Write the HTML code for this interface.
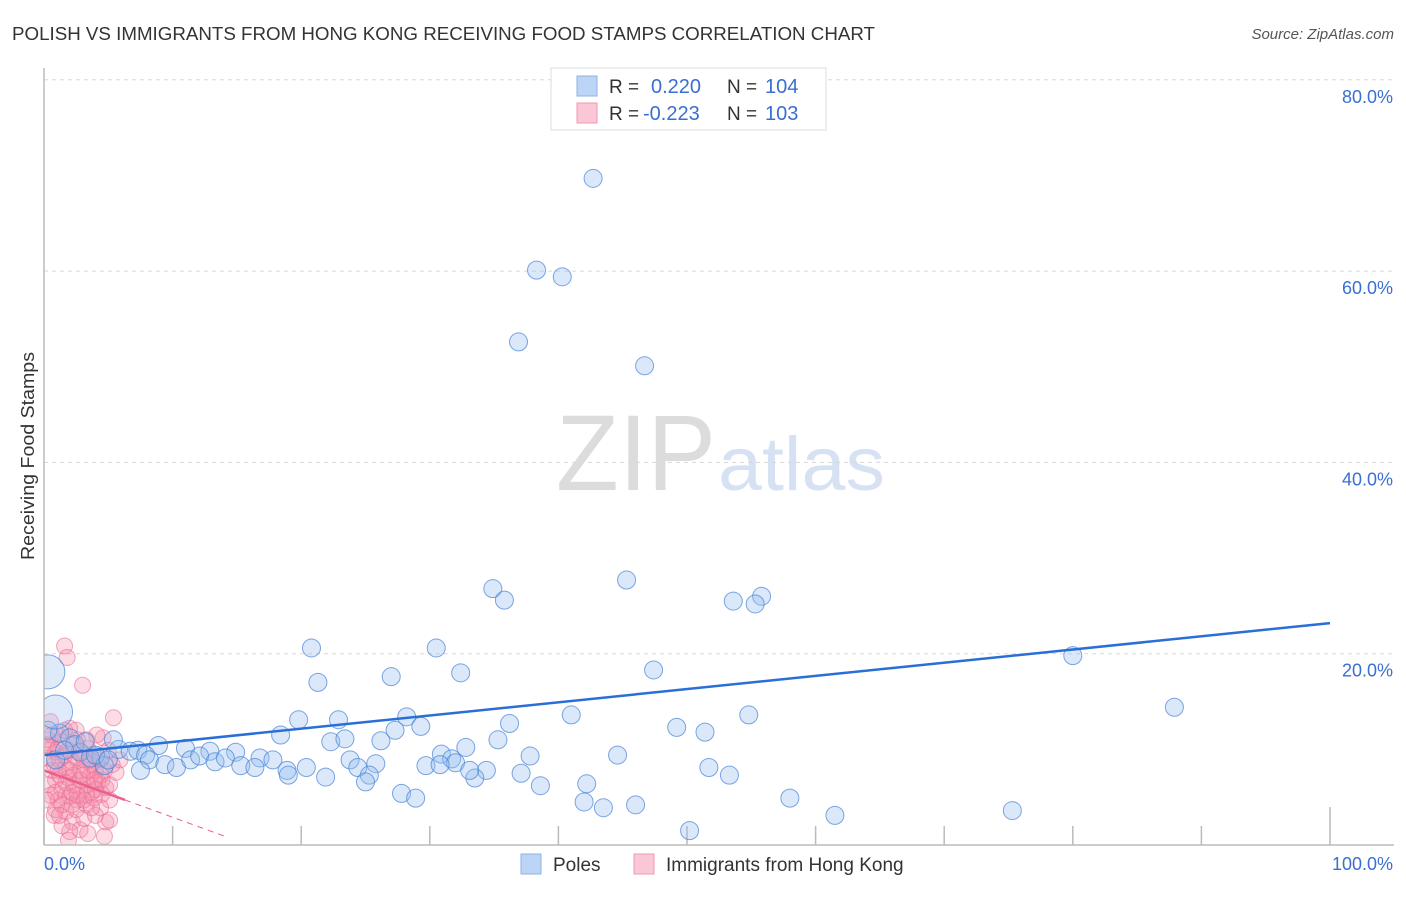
<!DOCTYPE html>
<html><head><meta charset="utf-8"><style>
body{margin:0;background:#fff;font-family:"Liberation Sans",sans-serif;}
svg text{font-family:"Liberation Sans",sans-serif;}
</style></head><body>
<svg id="chart" width="1406" height="892" xmlns="http://www.w3.org/2000/svg">
<defs><clipPath id="plotclip"><rect x="44" y="60" width="1360" height="785"/></clipPath></defs>
<text x="12" y="40" font-size="18" fill="#333" textLength="863" lengthAdjust="spacingAndGlyphs">POLISH VS IMMIGRANTS FROM HONG KONG RECEIVING FOOD STAMPS CORRELATION CHART</text>
<text x="1394" y="39" font-size="15" fill="#555" font-style="italic" text-anchor="end">Source: ZipAtlas.com</text>
<text x="716" y="490" font-size="108" fill="#dcdcdc" font-family="Liberation Serif,serif" text-anchor="end" textLength="160" lengthAdjust="spacingAndGlyphs">ZIP</text>
<text x="718" y="490" font-size="76" fill="#d6e2f3" textLength="167" lengthAdjust="spacingAndGlyphs">atlas</text>
<text transform="translate(34,456) rotate(-90)" font-size="18" fill="#333" text-anchor="middle" textLength="208" lengthAdjust="spacingAndGlyphs">Receiving Food Stamps</text>
<g id="grid"></g><g id="pink" clip-path="url(#plotclip)"></g><g id="blue" clip-path="url(#plotclip)"></g><g id="lines"></g>
<line x1="44" y1="68" x2="44" y2="845" stroke="#bbb" stroke-width="1.5"/>
<line x1="44" y1="845" x2="1394" y2="845" stroke="#bbb" stroke-width="1.5"/>
<text x="44" y="870" font-size="18" fill="#3a6fd1">0.0%</text>
<text x="1393" y="870" font-size="18" fill="#3a6fd1" text-anchor="end">100.0%</text>
<g>
<rect x="551" y="68" width="275" height="62" fill="#fff" stroke="#ddd"/>
<rect x="577" y="76" width="20" height="20" fill="#bcd4f6" stroke="#8fb1e6"/>
<rect x="577" y="103" width="20" height="20" fill="#f9c7d5" stroke="#f09ab3"/>
<text x="609" y="93" font-size="19" fill="#333">R = </text>
<text x="651" y="93" font-size="20" fill="#3a6fd1">0.220</text>
<text x="727" y="93" font-size="19" fill="#333">N = </text>
<text x="765" y="93" font-size="20" fill="#3a6fd1">104</text>
<text x="609" y="120" font-size="19" fill="#333">R = </text>
<text x="643" y="120" font-size="20" fill="#3a6fd1">-0.223</text>
<text x="727" y="120" font-size="19" fill="#333">N = </text>
<text x="765" y="120" font-size="20" fill="#3a6fd1">103</text>
</g>
<g>
<rect x="521" y="854" width="20" height="20" fill="#bcd4f6" stroke="#8fb1e6"/>
<text x="553" y="871" font-size="19" fill="#333">Poles</text>
<rect x="634" y="854" width="20" height="20" fill="#f9c7d5" stroke="#f09ab3"/>
<text x="666" y="871" font-size="19" fill="#333">Immigrants from Hong Kong</text>
</g>
</svg>
<script>
const yTicks=[20,40,60,80];
const xTicks=[0,10,20,30,40,50,60,70,80,90,100];
const blueX=[42.7,38.3,40.3,36.9,46.7,45.3,34.9,35.8,53.6,55.8,55.3,20.8,30.5,47.4,80.0,21.3,32.4,27.0,87.9,19.8,22.9,28.2,41.0,29.3,36.2,49.2,51.4,54.8,18.4,22.3,23.4,26.2,27.3,35.3,30.9,32.8,37.8,44.6,8.9,11.0,12.9,14.9,16.8,17.8,5.8,6.7,7.3,7.9,5.4,4.4,8.2,9.4,10.3,11.4,12.1,13.3,14.1,15.3,16.4,18.9,20.4,23.8,24.4,25.8,29.7,31.7,32.0,34.4,37.1,25.3,25.0,21.9,19.0,27.8,28.9,33.5,38.6,42.2,42.0,43.5,46.0,50.2,51.7,53.3,58.0,61.5,75.3,1.2,2.0,2.8,3.6,4.7,2.4,0.9,1.6,3.2,4.0,0.3,5.0,7.5,33.1,30.8];
const blueY=[69.7,60.1,59.4,52.6,50.1,27.7,26.8,25.6,25.5,26.0,25.2,20.6,20.6,18.3,19.8,17.0,18.0,17.6,14.4,13.1,13.1,13.4,13.6,12.4,12.7,12.3,11.8,13.6,11.5,10.8,11.1,10.9,12.0,11.0,9.5,10.2,9.3,9.4,10.4,10.1,9.8,9.7,9.1,8.9,10.0,9.8,9.9,9.4,11.0,9.2,8.9,8.4,8.1,8.9,9.3,8.7,9.1,8.3,8.1,7.8,8.1,8.9,8.1,8.5,8.3,9.0,8.6,7.8,7.5,7.3,6.6,7.1,7.3,5.4,4.9,7.0,6.2,6.4,4.5,3.9,4.2,1.5,8.1,7.3,4.9,3.1,3.6,11.7,11.2,9.7,9.1,8.3,10.5,8.9,9.9,10.8,9.4,12.0,8.9,7.8,7.8,8.4];
const blueBigX=[0.3,0.9];
const blueBigY=[18.1,13.9];
const pinkX=[1.6,1.8,3.0,5.4,4.6,4.1,0.5,1.1,1.4,2.0,2.6,3.4,0.9,1.2,1.7,2.2,2.8,3.6,4.2,4.8,0.6,0.9,1.4,2.0,2.6,3.3,3.9,4.5,5.1,0.3,0.8,1.9,2.3,3.0,3.7,4.4,1.1,1.7,2.2,2.8,3.4,2.0,2.5,3.1,4.8,5.1,4.7,0.8,0.3,0.2,0.6,1.6,2.5,3.1,3.7,4.0,4.4,3.4,1.2,1.7,2.3,2.8,3.3,3.9,0.5,0.9,1.4,1.9,4.0,4.5,5.6,5.9,5.0,5.3,0.3,1.1,2.0,2.8,3.6,4.4,1.6,2.5,3.1,3.7,0.9,1.4,2.2,1.9,2.3,3.0,3.3,4.0,4.7,5.1,1.1,1.7,2.6,3.4,3.9,0.6,0.2,1.2,2.2];
const pinkY=[20.8,19.6,16.7,13.3,11.2,11.5,12.9,11.5,10.8,12.2,11.0,10.1,9.7,8.9,8.1,8.7,7.8,7.2,6.6,6.0,7.8,6.8,5.8,5.1,4.7,4.2,4.9,5.3,4.7,9.1,8.4,7.0,6.3,5.8,5.5,3.9,4.7,3.5,2.4,1.6,1.2,1.4,3.7,2.8,2.4,2.6,0.9,3.1,6.3,10.5,10.1,9.4,9.1,8.9,8.4,7.8,7.3,6.3,7.3,5.2,7.3,9.7,11.0,9.4,5.2,3.7,2.0,0.5,3.1,6.8,7.6,8.9,9.9,8.4,11.0,10.1,7.8,6.8,8.9,8.9,12.0,12.0,4.7,3.9,5.5,4.2,4.2,9.9,10.5,7.3,5.2,5.8,7.8,6.3,7.8,6.5,5.2,7.8,6.8,11.5,4.7,3.1,5.5];
const blueLine=[9.4,23.2];
const pinkLine=[7.8,-0.49];
const pinkSolidEnd=6.3, pinkDashEnd=14.0;

const X=v=>44+v*12.86;
const Y=v=>845-v*9.565;
const NS='http://www.w3.org/2000/svg';
function mk(parent,tag,attrs){const e=document.createElementNS(NS,tag);for(const k in attrs)e.setAttribute(k,attrs[k]);document.getElementById(parent).appendChild(e);return e;}
yTicks.forEach(t=>{
  const l=mk('grid','line',{x1:44,x2:1394,y1:Y(t),y2:Y(t),stroke:'#d8d8d8','stroke-dasharray':'4,4'});
  
  
  const tx=mk('grid','text',{x:1393,y:Y(t)+23,'font-size':18,fill:'#3a6fd1','text-anchor':'end'});
  tx.textContent=t.toFixed(1)+'%';
  
  
});
xTicks.forEach((t,i)=>{
  const top=(i===0||i===xTicks.length-1)?807:826;
  const l=mk('grid','line',{x1:X(t),x2:X(t),y1:top,y2:845,stroke:'#bbb','stroke-width':1.5});
  
  
});
pinkX.forEach((x,i)=>{
  const c=mk('pink','circle',{cx:X(x),cy:Y(pinkY[i]),r:8,fill:'rgba(245,140,170,0.3)',stroke:'rgba(235,110,150,0.6)','stroke-width':1});
  
  
});
blueX.forEach((x,i)=>{
  const c=mk('blue','circle',{cx:X(x),cy:Y(blueY[i]),r:9,fill:'rgba(150,188,238,0.35)',stroke:'rgba(70,130,215,0.7)','stroke-width':1});
  
  
});
blueBigX.forEach((x,i)=>{
  const c=mk('blue','circle',{cx:X(x),cy:Y(blueBigY[i]),r:17,fill:'rgba(150,188,238,0.3)',stroke:'rgba(70,130,215,0.7)','stroke-width':1});
  
  
});
const bl=mk('lines','line',{x1:X(0),y1:Y(blueLine[0]),x2:X(100),y2:Y(blueLine[1]),stroke:'#2a6fd6','stroke-width':2.5});


const pl=mk('lines','line',{x1:X(0),y1:Y(pinkLine[0]),x2:X(pinkSolidEnd),y2:Y(pinkLine[0]+pinkLine[1]*pinkSolidEnd),stroke:'#ea5f8c','stroke-width':2.5});


const pd=mk('lines','line',{x1:X(pinkSolidEnd),y1:Y(pinkLine[0]+pinkLine[1]*pinkSolidEnd),x2:X(pinkDashEnd),y2:Y(pinkLine[0]+pinkLine[1]*pinkDashEnd),stroke:'#ea5f8c','stroke-width':1,'stroke-dasharray':'6,5'});


</script>
</body></html>
